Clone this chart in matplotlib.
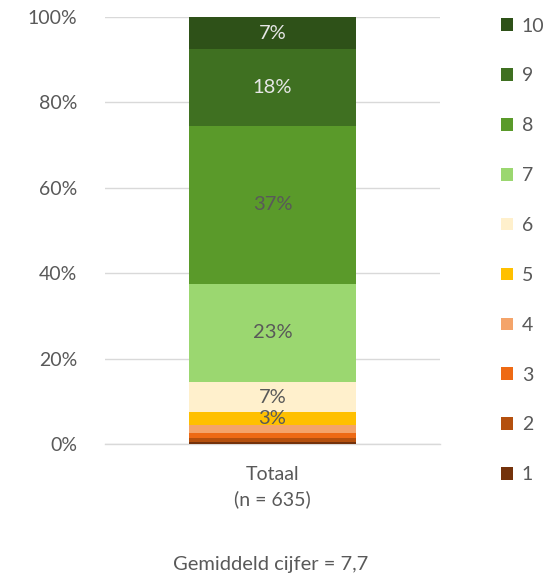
import matplotlib
matplotlib.use("Agg")
import matplotlib.pyplot as plt
from matplotlib.patches import Patch

plt.rcParams['font.family'] = ['Lato', 'DejaVu Sans']

categories = ["Totaal\n(n = 635)"]
grades = ["1", "2", "3", "4", "5", "6", "7", "8", "9", "10"]
values = [0.5, 1.0, 1.0, 2.0, 3.0, 7.0, 23.0, 37.0, 18.0, 7.5]
labels = ["", "", "", "", "3%", "7%", "23%", "37%", "18%", "7%"]
label_colors = ["#595959"] * 8 + ["#E6E6E6", "#E6E6E6"]
colors = ["#74320B", "#B4500E", "#EE6A14", "#F4A46A", "#FFC000",
          "#FFF0CC", "#9BD770", "#5A9A2A", "#3F7021", "#2E5118"]
footer = "Gemiddeld cijfer = 7,7"

fig = plt.figure(figsize=(5.48, 5.77), dpi=100)
ax = fig.add_axes([0.1916, 0.2305, 0.8030 - 0.1916, 0.9705 - 0.2305])

bottom = 0.0
handles = []
for g, v, lab, c, lc in zip(grades, values, labels, colors, label_colors):
    ax.bar(0, v / 100, width=0.5, bottom=bottom / 100, color=c, zorder=3, label=g)
    if lab:
        ax.text(0, (bottom + v / 2) / 100, lab, ha='center', va='center',
                fontsize=14.5, color=lc, zorder=4)
    bottom += v
    handles.append(Patch(facecolor=c, label=g))

ax.set_xlim(-0.5, 0.5)
ax.set_ylim(0, 1.0)
ax.set_yticks([0, 0.2, 0.4, 0.6, 0.8, 1.0])
ax.set_yticklabels(["0%", "20%", "40%", "60%", "80%", "100%"])
ax.set_xticks([0])
ax.set_xticklabels(categories, linespacing=1.5)
ax.tick_params(axis='both', length=0, labelsize=14, colors='#595959')
ax.tick_params(axis='x', pad=16)
ax.tick_params(axis='y', pad=20)
ax.yaxis.grid(True, color='#D9D9D9', linewidth=1, zorder=0)
for s in ['top', 'right', 'left']:
    ax.spines[s].set_visible(False)
ax.spines['bottom'].set_color('#D9D9D9')
ax.spines['bottom'].set_linewidth(1)

fig.legend(handles=handles[::-1], loc='upper left',
           bbox_to_anchor=(0.882, 1.0), frameon=False, fontsize=14,
           labelspacing=1.69, handlelength=0.62, handleheight=0.62,
           handletextpad=0.45, labelcolor='#595959')

fig.text(0.493, 0.022, footer, ha='center', va='center', fontsize=14.5, color='#595959')

fig.savefig("out.png", dpi=100)
